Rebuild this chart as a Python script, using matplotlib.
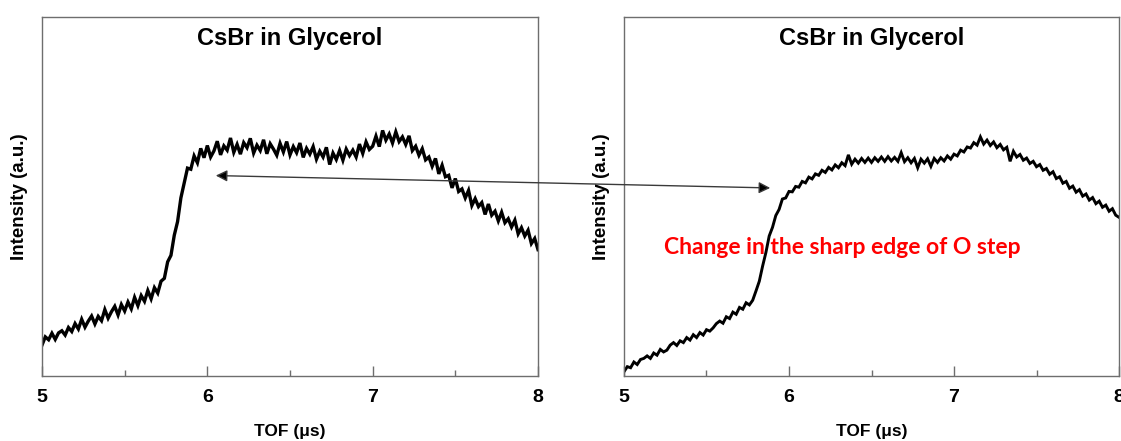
import numpy as np
import matplotlib
matplotlib.use("Agg")
import matplotlib.pyplot as plt
from matplotlib.patches import FancyArrowPatch

# TOF spectra of CsBr in glycerol (arbitrary intensity units), sampled every 0.02 us from 5 to 8 us
tof_start, tof_stop = 5.0, 8.0

intensity_left = [
    8.6, 10.9, 10.1, 11.9, 10.2, 12.0, 12.6, 11.4, 13.5, 12.4,
    14.6, 13.1, 15.8, 13.6, 15.3, 16.7, 14.5, 16.6, 15.4, 18.5,
    16.1, 17.9, 19.4, 17.0, 19.9, 18.1, 20.6, 18.7, 21.9, 19.6,
    22.4, 20.8, 23.8, 21.5, 24.6, 23.1, 26.4, 27.2, 31.8, 33.6,
    39.2, 43.0, 49.6, 53.8, 57.9, 57.6, 61.3, 59.4, 63.4, 60.8,
    64.2, 61.0, 62.7, 65.4, 61.6, 64.1, 62.9, 66.3, 62.3, 64.5,
    61.8, 65.0, 63.6, 66.2, 62.1, 64.3, 62.8, 65.8, 61.9, 64.7,
    63.2, 61.5, 64.8, 62.4, 65.3, 61.6, 63.9, 62.2, 64.9, 60.9,
    63.4, 61.8, 63.9, 60.4, 62.6, 61.0, 63.7, 58.9, 62.1, 60.3,
    62.8, 60.1, 63.2, 61.4, 62.9, 61.0, 64.6, 62.0, 65.2, 63.1,
    64.0, 66.8, 63.9, 68.4, 65.7, 67.4, 64.9, 68.0, 65.3, 66.6,
    64.5, 66.9, 62.8, 64.0, 61.5, 63.3, 60.2, 61.0, 58.4, 60.6,
    56.3, 58.7, 55.5, 55.9, 52.4, 55.0, 51.4, 52.1, 49.6, 51.7,
    47.5, 49.4, 47.2, 48.3, 45.0, 47.9, 44.8, 45.9, 43.2, 45.6,
    42.7, 43.8, 41.5, 43.4, 39.6, 41.3, 39.0, 40.6, 36.9, 38.3,
    35.2,
]

intensity_right = [
    1.2, 2.6, 2.3, 3.9, 3.2, 4.6, 4.9, 5.6, 4.9, 6.4,
    5.8, 7.4, 6.7, 7.2, 8.6, 9.3, 8.5, 9.8, 9.3, 10.7,
    10.0, 11.5, 10.7, 12.1, 11.4, 12.9, 12.5, 13.4, 14.6, 15.3,
    14.7, 16.5, 16.0, 17.8, 17.2, 19.1, 18.6, 20.4, 19.8, 21.1,
    23.7, 26.4, 30.6, 34.4, 39.0, 41.4, 44.7, 46.4, 49.3, 49.6,
    51.4, 51.3, 52.8, 52.6, 54.2, 53.8, 55.4, 54.9, 56.3, 55.9,
    57.3, 56.7, 58.1, 57.4, 58.8, 58.0, 59.4, 58.6, 61.6, 59.0,
    60.4, 59.3, 60.6, 59.5, 60.7, 59.5, 60.8, 59.8, 61.0, 59.8,
    61.1, 59.9, 60.9, 59.8, 62.2, 59.7, 60.8, 59.4, 60.6, 58.0,
    60.4, 59.3, 60.5, 58.4, 60.6, 59.5, 60.8, 59.9, 61.3, 60.4,
    61.8, 61.3, 62.9, 62.4, 63.8, 63.5, 65.0, 64.3, 66.6, 64.6,
    65.7, 64.2, 65.2, 63.6, 64.5, 63.0, 63.7, 59.8, 62.6, 61.0,
    61.7, 60.1, 60.7, 59.2, 59.8, 58.3, 58.9, 57.3, 57.8, 56.2,
    56.9, 55.0, 55.5, 53.7, 54.2, 52.3, 52.9, 51.2, 51.9, 50.1,
    50.7, 49.0, 49.7, 48.0, 48.7, 47.0, 47.6, 45.9, 46.6, 44.8,
    44.2,
]

panel_title = "CsBr in Glycerol"
x_label = "TOF (\u03bcs)"
y_label = "Intensity (a.u.)"
major_ticks = [5, 6, 7, 8]
minor_ticks = [5.5, 6.5, 7.5]
note_text = "Change in the sharp edge of O step"

plt.rcParams["font.family"] = ["Liberation Sans", "DejaVu Sans"]

W, H = 1121, 441
fig = plt.figure(figsize=(W / 100, H / 100), dpi=100)

spine_color = "#6e6e6e"


def px_box(x0, x1, ytop, ybot):
    return [x0 / W, 1 - ybot / H, (x1 - x0) / W, (ybot - ytop) / H]


def style_axes(ax, values, lw):
    tof = np.linspace(tof_start, tof_stop, len(values))
    ax.plot(tof, values, color="black", lw=lw, solid_joinstyle="miter")
    ax.set_xlim(tof_start, tof_stop)
    ax.set_ylim(0, 100)
    ax.set_yticks([])
    ax.set_xticks(major_ticks)
    ax.set_xticklabels([str(t) for t in major_ticks], fontsize=14, fontweight="bold")
    ax.set_xticks(minor_ticks, minor=True)
    ax.tick_params(axis="x", which="major", direction="in", length=7, width=1,
                   color=spine_color, pad=9, top=False)
    ax.tick_params(axis="x", which="minor", direction="in", length=4, width=1,
                   color=spine_color, top=False)
    for s in ax.spines.values():
        s.set_color(spine_color)
        s.set_linewidth(1.0)
    ax.set_xlabel(x_label, fontsize=12.5, fontweight="bold", labelpad=13)
    ax.set_ylabel(y_label, fontsize=13.5, fontweight="bold", labelpad=10)
    ax.text(0.5, 0.94, panel_title, transform=ax.transAxes, ha="center", va="center",
            fontsize=17, fontweight="bold")


ax1 = fig.add_axes(px_box(42, 538, 17, 376))
style_axes(ax1, intensity_left, 2.4)

ax2 = fig.add_axes(px_box(624, 1119, 17, 376))
style_axes(ax2, intensity_right, 2.1)

# double-headed arrow linking the two O-step edges
arrow = FancyArrowPatch((213 / W, 1 - 175.5 / H), (773 / W, 1 - 188 / H),
                        transform=fig.transFigure, arrowstyle="<|-|>",
                        mutation_scale=17, color="#3a3a3a", lw=1.0, zorder=5)
arrow.set_facecolor("black")
fig.add_artist(arrow)

fig.text(842 / W, 1 - 248 / H, note_text, ha="center", va="center",
         color="#ff0000", fontsize=16.5, fontweight="bold", family=["Lato", "DejaVu Sans"])

fig.savefig("out.png", dpi=100)
